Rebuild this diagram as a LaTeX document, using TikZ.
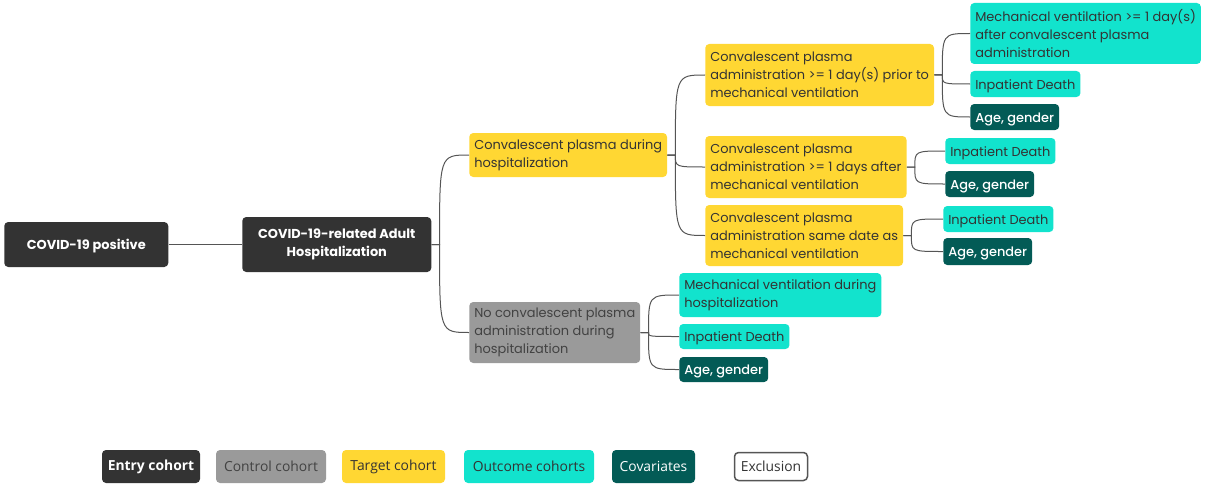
\documentclass[tikz,border=0pt]{standalone}
\usepackage{fontspec}
\setmainfont{Poppins}
\newfontfamily\popmed{Poppins Medium}
\newfontfamily\legendfont{Open Sans}
\newlength\px
\setlength\px{0.75pt}
\definecolor{entrycol}{HTML}{333333}
\definecolor{controlcol}{HTML}{9A9A9A}
\definecolor{controltext}{HTML}{424242}
\definecolor{targetcol}{HTML}{FFD733}
\definecolor{outcomecol}{HTML}{12E3CD}
\definecolor{covcol}{HTML}{035B56}
\definecolor{darktext}{HTML}{333333}
\definecolor{linecol}{HTML}{555555}
\tikzset{
  base/.style={anchor=west, rounded corners=3pt, inner xsep=5\px, inner ysep=0pt,
    align=left, font=\fontsize{9.7}{13.5}\selectfont,
    execute at begin node={\rule{0pt}{10.2pt}}},
  entry/.style={base, fill=entrycol, text=white, align=center,
    font=\fontsize{9.7}{13.5}\selectfont\bfseries},
  control/.style={base, fill=controlcol, text=controltext},
  target/.style={base, fill=targetcol, text=darktext},
  outcome/.style={base, fill=outcomecol, text=darktext},
  covariate/.style={base, fill=covcol, text=white, font=\popmed\fontsize{9.7}{13.5}\selectfont},
  branch/.style={draw=linecol, line width=1\px,
    to path={-- ++(8,0) coordinate (stub) .. controls (stub |- \tikztotarget) .. (\tikztotarget)}},
  key/.style={rounded corners=3pt, inner sep=0pt, minimum height=33\px,
    font=\legendfont\fontsize{10.4}{12}\selectfont}
}
\begin{document}
\begin{tikzpicture}[x=1\px, y=-1\px]
  \useasboundingbox (0,0) rectangle (1205,492);

  % Define nodes
  \node (pos) at (4,244.5) [entry, minimum width=164\px, minimum height=45\px] {COVID-19 positive};
  \node (hosp) at (242,244.5) [entry, minimum width=189\px, minimum height=55\px] {COVID-19-related Adult\\Hospitalization};

  \node (cpd) at (469,155) [target, minimum height=44\px] {Convalescent plasma during\\hospitalization};
  \node (nocp) at (469,332.5) [control, minimum height=61\px] {No convalescent plasma\\administration during\\hospitalization};

  \node (prior) at (705,75) [target, minimum height=62\px] {Convalescent plasma\\administration >= 1 day(s) prior to\\mechanical ventilation};
  \node (after) at (705,167) [target, minimum height=62\px] {Convalescent plasma\\administration >= 1 days after\\mechanical ventilation};
  \node (same) at (705,235.5) [target, minimum height=61\px] {Convalescent plasma\\administration same date as\\mechanical ventilation};

  \node (mvA) at (970,33.5) [outcome, minimum height=61\px] {Mechanical ventilation >= 1 day(s)\\after convalescent plasma\\administration};
  \node (deathA) at (970,84) [outcome, minimum height=26\px] {Inpatient Death};
  \node (ageA) at (970,117) [covariate, minimum height=26\px] {Age, gender};

  \node (deathB) at (945,151) [outcome, minimum height=26\px] {Inpatient Death};
  \node (ageB) at (945,184) [covariate, minimum height=26\px] {Age, gender};

  \node (deathC) at (943,219) [outcome, minimum height=26\px] {Inpatient Death};
  \node (ageC) at (943,251.5) [covariate, minimum height=27\px] {Age, gender};

  \node (mvD) at (679,295) [outcome, minimum height=44\px] {Mechanical ventilation during\\hospitalization};
  \node (deathD) at (679,336.5) [outcome, minimum height=25\px] {Inpatient Death};
  \node (ageD) at (679,369.5) [covariate, minimum height=25\px] {Age, gender};

  % Draw edges
  \draw[branch] (pos.east) to (hosp.west);
  \draw[branch] (hosp.east) to (cpd.west);
  \draw[branch] (hosp.east) to (nocp.west);
  \draw[branch] (cpd.east) to (prior.west);
  \draw[branch] (cpd.east) to (after.west);
  \draw[branch] (cpd.east) to (same.west);
  \draw[branch] (prior.east) to (mvA.west);
  \draw[branch] (prior.east) to (deathA.west);
  \draw[branch] (prior.east) to (ageA.west);
  \draw[branch] (after.east) to (deathB.west);
  \draw[branch] (after.east) to (ageB.west);
  \draw[branch] (same.east) to (deathC.west);
  \draw[branch] (same.east) to (ageC.west);
  \draw[branch] (nocp.east) to (mvD.west);
  \draw[branch] (nocp.east) to (deathD.west);
  \draw[branch] (nocp.east) to (ageD.west);

  % Legend
  \node (kEntry) at (151,466.5) [key, fill=entrycol, text=white, minimum width=98\px, font=\legendfont\fontsize{10.4}{12}\selectfont\bfseries] {Entry cohort};
  \node (kControl) at (271,466.5) [key, fill=controlcol, text=controltext, minimum width=110\px] {Control cohort};
  \node (kTarget) at (393.5,466.5) [key, fill=targetcol, text=darktext, minimum width=103\px] {Target cohort};
  \node (kOutcome) at (529,466.5) [key, fill=outcomecol, text=darktext, minimum width=130\px] {Outcome cohorts};
  \node (kCov) at (653.5,466.5) [key, fill=covcol, text=white, minimum width=83\px] {Covariates};
  \node (kExcl) at (771,466.5) [key, draw=linecol, line width=1.5\px, fill=white, text=darktext, minimum width=73\px, minimum height=28\px] {Exclusion};
\end{tikzpicture}
\end{document}
